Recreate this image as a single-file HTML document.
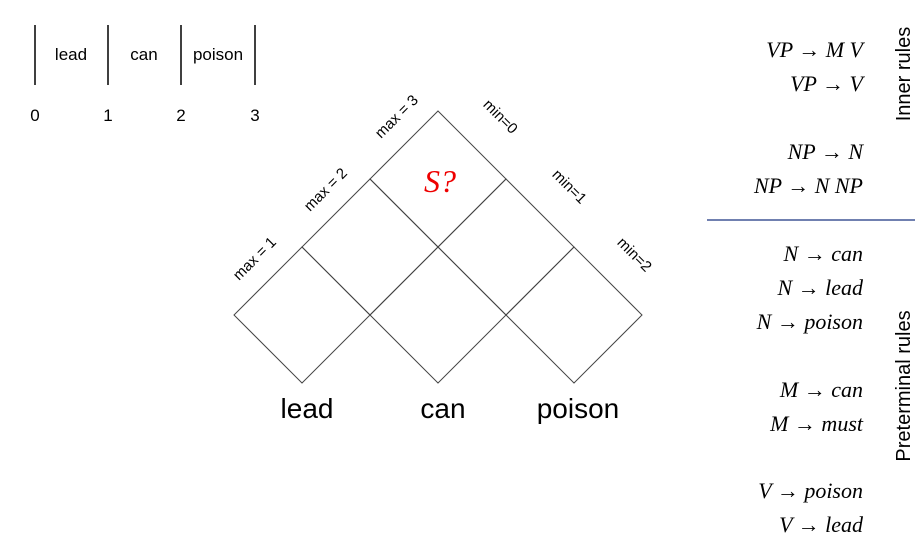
<!DOCTYPE html>
<html><head><meta charset="utf-8"><style>
body{margin:0;background:#fff;}
svg{display:block;font-family:"Liberation Sans",sans-serif;}
.m{font-family:"Liberation Serif",serif;font-size:22px;}
</style></head><body>
<svg width="918" height="548" viewBox="0 0 918 548">
<g font-size="17">
<line x1="35" y1="25" x2="35" y2="85" stroke="#000" stroke-width="1.5"/>
<line x1="108" y1="25" x2="108" y2="85" stroke="#000" stroke-width="1.5"/>
<line x1="181" y1="25" x2="181" y2="85" stroke="#000" stroke-width="1.5"/>
<line x1="255" y1="25" x2="255" y2="85" stroke="#000" stroke-width="1.5"/>
<text x="71" y="60" text-anchor="middle">lead</text>
<text x="144" y="60" text-anchor="middle">can</text>
<text x="218" y="60" text-anchor="middle">poison</text>
<text x="35" y="121" text-anchor="middle">0</text>
<text x="108" y="121" text-anchor="middle">1</text>
<text x="181" y="121" text-anchor="middle">2</text>
<text x="255" y="121" text-anchor="middle">3</text>
</g>
<g id="grid" fill="none" stroke="#444" stroke-width="1"></g>
<text x="440" y="192" fill="#e00" font-family="Liberation Serif,serif" font-style="italic" font-size="32" text-anchor="middle">S?</text>
<g font-size="15">
<text transform="translate(258,262) rotate(-45)" text-anchor="middle">max = 1</text>
<text transform="translate(329,193) rotate(-45)" text-anchor="middle">max = 2</text>
<text transform="translate(400,120) rotate(-45)" text-anchor="middle">max = 3</text>
<text transform="translate(497,120) rotate(45)" text-anchor="middle">min=0</text>
<text transform="translate(566,190) rotate(45)" text-anchor="middle">min=1</text>
<text transform="translate(631,258) rotate(45)" text-anchor="middle">min=2</text>
</g>
<g font-size="28" text-anchor="middle">
<text x="307" y="418">lead</text>
<text x="443" y="418">can</text>
<text x="578" y="418">poison</text>
</g>
<g class="m" font-style="italic" text-anchor="end">
<text x="863" y="57">VP → M  V</text>
<text x="863" y="91">VP → V</text>
<text x="863" y="159">NP → N</text>
<text x="863" y="193">NP → N NP</text>
<text x="863" y="261">N → can</text>
<text x="863" y="295">N → lead</text>
<text x="863" y="329">N → poison</text>
<text x="863" y="397">M → can</text>
<text x="863" y="431">M → must</text>
<text x="863" y="498">V → poison</text>
<text x="863" y="532">V → lead</text>
</g>
<line x1="707" y1="220" x2="915" y2="220" stroke="#7080b0" stroke-width="2"/>
<text transform="translate(910,74) rotate(-90)" font-size="20" text-anchor="middle">Inner rules</text>
<text transform="translate(910,386) rotate(-90)" font-size="20" text-anchor="middle">Preterminal rules</text>
</svg>
<script>
const words=["lead","can","poison"];
const g=document.getElementById('grid');
const n=words.length, h=68, cx0=302, cy0=315;
for(let r=0;r<n;r++){for(let i=0;i<n-r;i++){
 const cx=cx0+h*(2*i+r), cy=cy0-h*r;
 const p=document.createElementNS('http://www.w3.org/2000/svg','polygon');
 p.setAttribute('points',`${cx},${cy-h} ${cx+h},${cy} ${cx},${cy+h} ${cx-h},${cy}`);
 
 
 g.appendChild(p);
}}
</script>
</body></html>
